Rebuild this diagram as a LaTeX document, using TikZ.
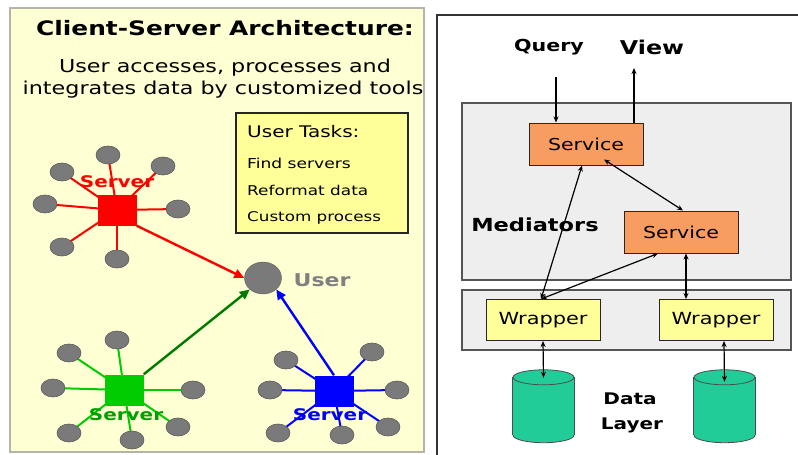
\documentclass[tikz,border=0pt]{standalone}
\usepackage{fontspec}
\usepackage{graphicx}
\setmainfont{DejaVu Sans}
\usetikzlibrary{shapes.geometric,arrows.meta}
\pgfdeclarelayer{panel}
\pgfdeclarelayer{spokes}
\pgfsetlayers{panel,spokes,main}
\newcommand{\sx}[1]{\scalebox{1.25}[1]{#1}}
\newcommand{\fs}[1]{\fontsize{#1}{#1}\selectfont}
\definecolor{panelfill}{HTML}{FFFFD4}
\definecolor{panelline}{HTML}{B4B4A8}
\definecolor{taskfill}{HTML}{FFFF99}
\definecolor{satfill}{HTML}{7A7A7A}
\definecolor{satline}{HTML}{5A5A5A}
\definecolor{grnline}{HTML}{00CC00}
\definecolor{grnarrow}{HTML}{007A00}
\definecolor{grntext}{HTML}{00A000}
\definecolor{medfill}{HTML}{EEEEEE}
\definecolor{medline}{HTML}{555555}
\definecolor{svcfill}{HTML}{F89D62}
\definecolor{wrapfill}{HTML}{FFFF99}
\definecolor{cylfill}{HTML}{22CC99}
\definecolor{usertext}{HTML}{808080}
\tikzset{
  sat/.style={ellipse, minimum width=24, minimum height=18, inner sep=0, fill=satfill, draw=satline, line width=0.6},
  srv/.style={rectangle, minimum width=39, minimum height=31, inner sep=0},
  spoke/.style={line width=2},
  bigarrow/.style={line width=2.4, -{Triangle[length=10,width=9]}},
  srvlabel/.style={font=\fs{16}\bfseries},
  svcbox/.style={rectangle, fill=svcfill, draw=black!85, line width=1, minimum width=114, minimum height=42, inner sep=0, font=\fs{16.4}},
  wrapbox/.style={rectangle, fill=wrapfill, draw=black!85, line width=1, minimum width=114, minimum height=41, inner sep=0, font=\fs{16.7}},
  conn/.style={line width=1.2, {Stealth[length=6,width=5]}-{Stealth[length=6,width=5]}},
  oneway/.style={line width=1.2, -{Stealth[length=6,width=5]}},
  cylspot/.style={rectangle, minimum width=61, minimum height=65, inner sep=0},
}
\begin{document}
\begin{tikzpicture}[x=1pt,y=-1pt]
\useasboundingbox (0,0) rectangle (798,455);
\begin{pgfonlayer}{panel}
\fill[white] (0,0) rectangle (798,455);
\draw[panelline, fill=panelfill, line width=1.5] (10,8) rectangle (424,452);
\end{pgfonlayer}
% ---------------- left panel
\node[font=\fs{19.9}\bfseries, inner sep=0] (title) at (225,28) {\sx{Client-Server Architecture:}};
\node[font=\fs{17.8}, inner sep=0] (sub1) at (225,68) {\sx{User accesses, processes and}};
\node[font=\fs{17.8}, inner sep=0] (sub2) at (223,90) {\sx{integrates data by customized tools}};
% user tasks
\node[rectangle, fill=taskfill, draw=black!85, line width=1.2, minimum width=172, minimum height=120, inner sep=0] (tasks) at (322,173) {};
\node[anchor=west, font=\fs{16}, inner sep=0] (t0) at (247,132) {\sx{User Tasks:}};
\node[anchor=west, font=\fs{13.7}, inner sep=0] (t1) at (247,163) {\sx{Find servers}};
\node[anchor=west, font=\fs{13.5}, inner sep=0] (t2) at (247,190) {\sx{Reformat data}};
\node[anchor=west, font=\fs{13.4}, inner sep=0] (t3) at (247,218) {\sx{Custom process}};
% user
\node[ellipse, minimum width=37, minimum height=32, inner sep=0, fill=satfill, draw=satline] (user) at (263,278) {};
\node[font=\fs{17.6}\bfseries, text=usertext, inner sep=0] (userlbl) at (322,280) {\sx{User}};
% red server
\node[srv, fill=red] (rs) at (117,210) {};
\node[sat] (r1) at (108,155) {};
\node[sat] (r2) at (62,172) {};
\node[sat] (r3) at (163,166) {};
\node[sat] (r4) at (45,204) {};
\node[sat] (r5) at (178,209) {};
\node[sat] (r6) at (62,247) {};
\node[sat] (r7) at (117,259) {};
% green server
\node[srv, fill=grnline] (gs) at (124,390) {};
\node[sat] (g1) at (117,340) {};
\node[sat] (g2) at (69,353) {};
\node[sat] (g3) at (53,388) {};
\node[sat] (g4) at (193,390) {};
\node[sat] (g5) at (69,433) {};
\node[sat] (g6) at (132,440) {};
\node[sat] (g7) at (178,427) {};
% blue server
\node[srv, fill=blue] (bs) at (334,391) {};
\node[sat] (b1) at (286,360) {};
\node[sat] (b2) at (372,352) {};
\node[sat] (b3) at (270,390) {};
\node[sat] (b4) at (397,390) {};
\node[sat] (b5) at (278,433) {};
\node[sat] (b6) at (342,435) {};
\node[sat] (b7) at (388,427) {};
\begin{pgfonlayer}{spokes}
  \foreach \s in {r1,r2,r3,r4,r5,r6,r7} \draw[spoke, red] (rs.center) -- (\s.center);
  \foreach \s in {g1,g2,g3,g4,g5,g6,g7} \draw[spoke, grnline] (gs.center) -- (\s.center);
  \foreach \s in {b1,b2,b3,b4,b5,b6,b7} \draw[spoke, blue] (bs.center) -- (\s.center);
\end{pgfonlayer}
\node[srvlabel, text=red, inner sep=0] (rlbl) at (117,182) {\sx{Server}};
\node[srvlabel, text=grntext, inner sep=0] (glbl) at (126,415) {\sx{Server}};
\node[srvlabel, text=blue, inner sep=0] (blbl) at (330,415) {\sx{Server}};
% arrows to user
\draw[bigarrow, red] (rs.south east) -- (user.west);
\draw[bigarrow, grnarrow] (gs.north east) -- (user.south west);
\draw[bigarrow, blue] (bs.north) -- (user.south east);
% ---------------- right panel
\draw[black!80, line width=2] (437,458) -- (437,15) -- (800,15);
\node[font=\fs{16.5}\bfseries, inner sep=0] (query) at (549,47) {\sx{Query}};
\node[font=\fs{19}\bfseries, inner sep=0] (view) at (652,47) {\sx{View}};
\draw[medline, fill=medfill, line width=1.2] (462,103) rectangle (791,280);
\draw[medline, fill=medfill, line width=1.2] (462,290) rectangle (791,350);
\node[font=\fs{18}\bfseries, inner sep=0] (med) at (535,225) {\sx{Mediators}};
\node[svcbox] (s1) at (586,144) {\sx{Service}};
\node[svcbox] (s2) at (681,232) {\sx{Service}};
\node[wrapbox] (w1) at (543,320) {\sx{Wrapper}};
\node[wrapbox] (w2) at (716,320) {\sx{Wrapper}};
% cylinders
\node[cylspot] (c1) at (543.5,402.5) {};
\node[cylspot] (c2) at (724.5,402.5) {};
\foreach \c in {c1,c2}{
  \fill[cylfill, draw=black!70, line width=0.8] (\c.south) ellipse [x radius=30.5, y radius=7.5];
  \fill[cylfill] ([yshift=-7.5]\c.north west) rectangle (\c.south east);
  \draw[black!70, line width=0.8] ([yshift=-7.5]\c.north west) -- (\c.south west);
  \draw[black!70, line width=0.8] ([yshift=-7.5]\c.north east) -- (\c.south east);
  \fill[cylfill, draw=black!70, line width=0.8] ([yshift=-7.5]\c.north) ellipse [x radius=30.5, y radius=7.5];
}
\node[font=\fs{16}\bfseries, inner sep=0] (data) at (630,399) {\sx{Data}};
\node[font=\fs{16}\bfseries, inner sep=0] (layer) at (632,425) {\sx{Layer}};
\coordinate (qtop) at (556,77);
\coordinate (vtop) at (634,68);
\draw[oneway] (qtop) -- (qtop |- s1.north);
\draw[oneway] (vtop |- s1.north) -- (vtop);
\coordinate (w1t) at (541,299);
\draw[conn] (w1t) -- ([xshift=-4]s1.south);
\draw[conn] (w1t) -- ([xshift=-23]s2.south);
\draw[conn] ([xshift=18,yshift=6]s1.south) -- ([xshift=2]s2.north);
\draw[conn] ([xshift=5]s2.south) -- ([xshift=-30]w2.north);
\draw[conn] (w1.south) -- ([yshift=-8]c1.north);
\draw[conn] ([xshift=8]w2.south) -- ([yshift=-12]c2.north);
\end{tikzpicture}
\end{document}
